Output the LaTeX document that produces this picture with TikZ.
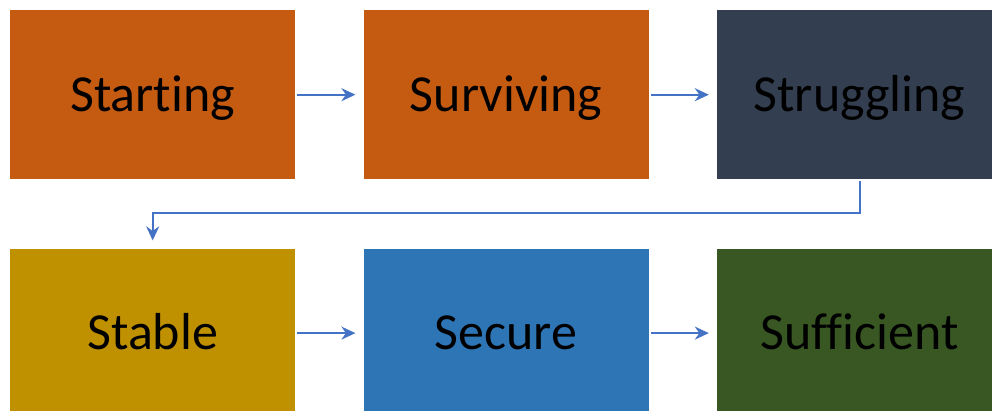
\documentclass[tikz,border=0pt]{standalone}
\usepackage{fontspec}
\setmainfont[Ligatures=NoCommon]{Carlito}
\usetikzlibrary{arrows.meta,positioning,calc}

\definecolor{rust}{HTML}{C55A11}
\definecolor{slate}{HTML}{333F50}
\definecolor{gold}{HTML}{BF9000}
\definecolor{steel}{HTML}{2E75B6}
\definecolor{moss}{HTML}{385723}
\definecolor{link}{HTML}{4472C4}

\begin{document}
\begin{tikzpicture}[
    stage/.style={rectangle, minimum width=285pt, minimum height=169pt, inner sep=0pt,
                  text height=43pt, text depth=10pt,
                  font=\fontsize{52}{60}\selectfont, text=black},
    flow/.style={-{Stealth[length=14pt, width=13pt]}, draw=link, line width=2pt,
                 shorten <=2pt, shorten >=8pt}
]
\useasboundingbox (0,0) rectangle (992pt,-411pt);
\clip (0,0) rectangle (992pt,-411pt);

% Top row
\node[stage, fill=rust, anchor=north west] (start) at (10pt,-10pt) {Starting};
\node[stage, fill=rust, right=68pt of start] (surv) {Surviving};
\node[stage, fill=slate, right=68pt of surv] (strug) {Struggling};

% Bottom row
\node[stage, fill=gold, below=69pt of start] (stable) {Stable};
\node[stage, fill=steel, right=68pt of stable] (secure) {Secure};
\node[stage, fill=moss, right=68pt of secure] (suff) {Sufficient};

\draw[flow] (start) -- (surv);
\draw[flow] (surv) -- (strug);
\draw[flow] (stable) -- (secure);
\draw[flow] (secure) -- (suff);

% Wrap around to second row
\coordinate (bend) at ($(strug.south)+(0,-34pt)$);
\draw[flow] (strug.south) -- (bend) -| (stable.north);
\end{tikzpicture}
\end{document}
